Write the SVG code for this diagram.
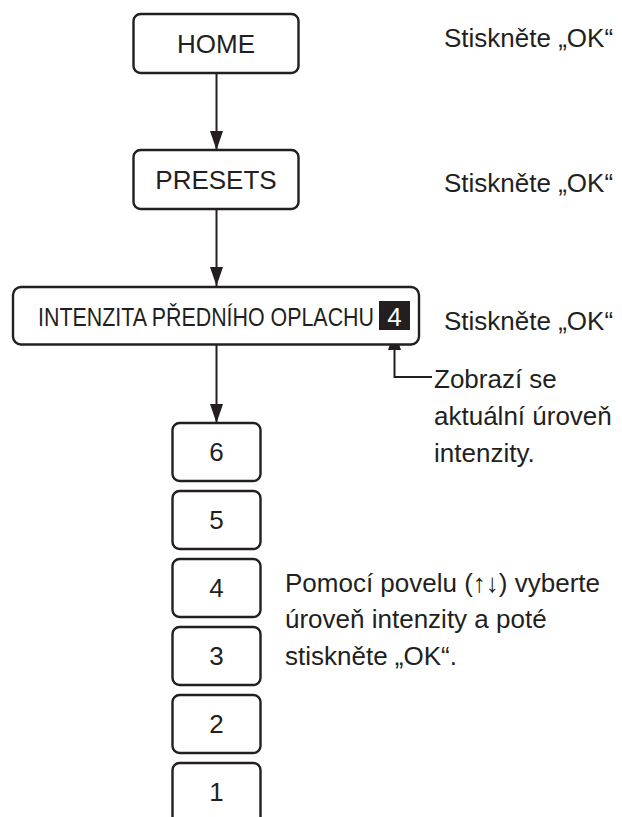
<svg xmlns="http://www.w3.org/2000/svg" width="622" height="817" viewBox="0 0 622 817">
<style>
.box{fill:#fff;stroke:#231f20;stroke-width:2.4}
.t{font-family:"Liberation Sans",Arial,sans-serif;font-size:26px;fill:#231f20}
.c{text-anchor:middle}
.ln{fill:none;stroke:#231f20;stroke-width:2}
</style>
<defs>
<marker id="ah" viewBox="0 0 13 19" refX="13" refY="6.5" markerWidth="19" markerHeight="13" markerUnits="userSpaceOnUse" orient="auto">
<path d="M0,0 L19,6.5 L0,13 Z" fill="#231f20"/>
</marker>
<marker id="ah2" viewBox="0 0 19 13" refX="19" refY="6.5" markerWidth="19" markerHeight="13" markerUnits="userSpaceOnUse" orient="auto">
<path d="M0,0 L19,6.5 L0,13 Z" fill="#231f20"/>
</marker>
</defs>
<rect width="622" height="817" fill="#fff"/>
<g id="connectors">
<line class="ln" x1="216.5" y1="73" x2="216.5" y2="150" marker-end="url(#ah2)"/>
<line class="ln" x1="216.5" y1="209" x2="216.5" y2="286" marker-end="url(#ah2)"/>
<line class="ln" x1="216.5" y1="345" x2="216.5" y2="423" marker-end="url(#ah2)"/>
<polyline class="ln" points="432,377 394.5,377 394.5,331" marker-end="url(#ah2)"/>
</g>
<g id="home">
<rect class="box" x="133.5" y="14" width="165" height="59" rx="7"/>
<text class="t c" x="216" y="53">HOME</text>
</g>
<g id="presets">
<rect class="box" x="133.5" y="150" width="165" height="59" rx="7"/>
<text class="t c" x="216" y="189">PRESETS</text>
</g>
<g id="intenzita">
<rect class="box" x="13" y="287" width="406" height="57.5" rx="8"/>
<text class="t" x="38" y="326" textLength="336" lengthAdjust="spacingAndGlyphs">INTENZITA PŘEDNÍHO OPLACHU</text>
<rect x="379" y="301" width="31" height="29" fill="#231f20"/>
<text class="t c" x="394.5" y="326" style="fill:#fff">4</text>
</g>
<g id="level6"><rect class="box" x="172.5" y="423" width="88" height="58" rx="7"/><text class="t c" x="216.5" y="461">6</text></g>
<g id="level5"><rect class="box" x="172.5" y="491" width="88" height="58" rx="7"/><text class="t c" x="216.5" y="529">5</text></g>
<g id="level4"><rect class="box" x="172.5" y="559" width="88" height="58" rx="7"/><text class="t c" x="216.5" y="597">4</text></g>
<g id="level3"><rect class="box" x="172.5" y="627" width="88" height="58" rx="7"/><text class="t c" x="216.5" y="665">3</text></g>
<g id="level2"><rect class="box" x="172.5" y="695" width="88" height="58" rx="7"/><text class="t c" x="216.5" y="733">2</text></g>
<g id="level1"><rect class="box" x="172.5" y="763" width="88" height="70" rx="7"/><text class="t c" x="216.5" y="801">1</text></g>
<g id="notes">
<text class="t" x="444" y="47">Stiskněte „OK“</text>
<text class="t" x="444" y="192">Stiskněte „OK“</text>
<text class="t" x="444" y="330">Stiskněte „OK“</text>
<text class="t" x="434"><tspan x="434" y="388">Zobrazí se</tspan><tspan x="434" y="425">aktuální úroveň</tspan><tspan x="434" y="462">intenzity.</tspan></text>
<text class="t" x="285"><tspan x="285" y="592">Pomocí povelu (↑↓) vyberte</tspan><tspan x="285" y="628">úroveň intenzity a poté</tspan><tspan x="285" y="665">stiskněte „OK“.</tspan></text>
</g>
</svg>
